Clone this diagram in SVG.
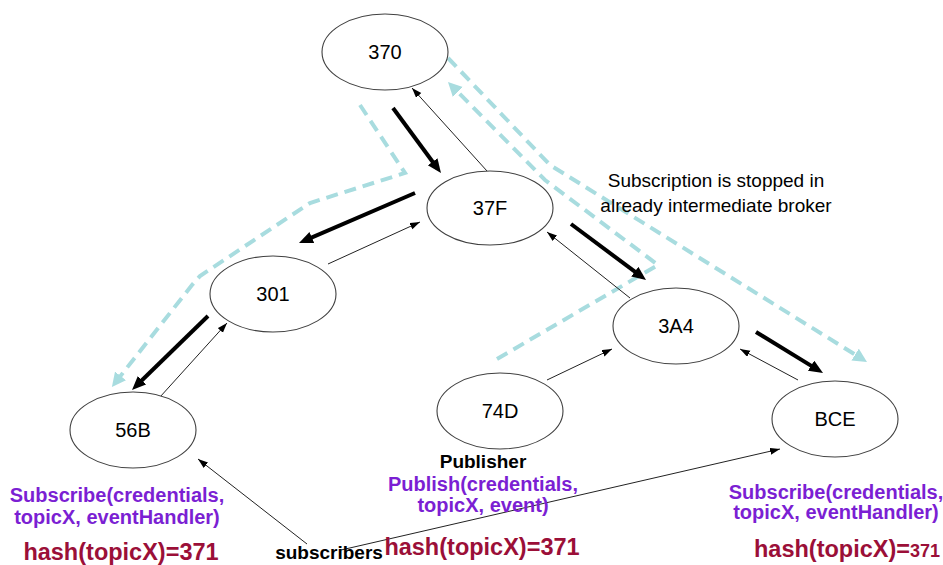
<svg xmlns="http://www.w3.org/2000/svg" width="943" height="565" viewBox="0 0 943 565">
<style>
.node ellipse{fill:#fff;stroke:#404040;stroke-width:1.1}
.node text{font-family:"Liberation Sans",Arial,sans-serif;font-size:20px;fill:#000;text-anchor:middle}
.thin{stroke:#222;stroke-width:1;fill:none;marker-end:url(#ah-thin)}
.thick{stroke:#000;stroke-width:4;fill:none;marker-end:url(#ah-thick)}
.dash{stroke:#A8DCDF;stroke-width:4;fill:none;stroke-dasharray:12 7}
.dasharr{marker-end:url(#ah-teal)}
.lbl{font-family:"Liberation Sans",Arial,sans-serif;text-anchor:middle}
.purple{fill:#7B1FD3;font-weight:bold;font-size:20px}
.red{fill:#9B0F38;font-weight:bold;font-size:23.5px}
.blk{fill:#000;font-weight:bold;font-size:19px}
.note{fill:#000;font-size:19px}
</style>
<defs>
<marker id="ah-thin" markerUnits="userSpaceOnUse" markerWidth="12" markerHeight="9" refX="10" refY="3.5" orient="auto">
<path d="M0,0 L10,3.5 L0,7 z" fill="#000"/>
</marker>
<marker id="ah-thick" markerUnits="userSpaceOnUse" markerWidth="16" markerHeight="14" refX="8" refY="6" orient="auto">
<path d="M0,0 L14,6 L0,12 z" fill="#000"/>
</marker>
<marker id="ah-teal" markerUnits="userSpaceOnUse" markerWidth="16" markerHeight="16" refX="8" refY="7" orient="auto">
<path d="M0,0 L14,7 L0,14 z" fill="#A8DCDF"/>
</marker>
</defs>

<g id="connectors">
<path class="dash dasharr" d="M360,105 L405,173 L310,203 L200,276 L192,285 L115.6,382.2"/>
<path class="dash dasharr" d="M448,58 L550,165 L861.9,358.8"/>
<path class="dash dasharr" d="M497,359 L658,265 L545,180 L452.2,86.3"/>
<line class="thick" x1="393" y1="108" x2="437.4" y2="168.2"/>
<line class="thick" x1="415" y1="193" x2="304.5" y2="240.6"/>
<line class="thick" x1="208" y1="316" x2="136.3" y2="385.8"/>
<line class="thick" x1="571" y1="224" x2="641.2" y2="276.4"/>
<line class="thick" x1="756" y1="332" x2="817.9" y2="369.9"/>
<line class="thin" x1="487" y1="171" x2="412" y2="88"/>
<line class="thin" x1="328" y1="264" x2="420" y2="222"/>
<line class="thin" x1="160" y1="397" x2="227" y2="323"/>
<line class="thin" x1="630" y1="298" x2="547" y2="232"/>
<line class="thin" x1="547" y1="380" x2="612" y2="349"/>
<line class="thin" x1="798" y1="380" x2="740" y2="349"/>
<line class="thin" x1="307" y1="544" x2="198" y2="459"/>
<line class="thin" x1="341" y1="550" x2="780" y2="449"/>
</g>

<g id="n370" class="node"><ellipse cx="385" cy="52" rx="63" ry="38"/><text x="385" y="59">370</text></g>
<g id="n37F" class="node"><ellipse cx="490" cy="208" rx="63" ry="37"/><text x="490" y="215">37F</text></g>
<g id="n301" class="node"><ellipse cx="273" cy="294" rx="63" ry="38"/><text x="273" y="301">301</text></g>
<g id="n56B" class="node"><ellipse cx="133" cy="430" rx="63" ry="38"/><text x="133" y="437">56B</text></g>
<g id="n74D" class="node"><ellipse cx="500" cy="411" rx="63" ry="38"/><text x="500" y="418">74D</text></g>
<g id="n3A4" class="node"><ellipse cx="676" cy="326" rx="63" ry="38"/><text x="676" y="333">3A4</text></g>
<g id="nBCE" class="node"><ellipse cx="835" cy="419" rx="63" ry="38"/><text x="835" y="426">BCE</text></g>

<g id="labels">
<text class="lbl note" x="716" y="187">Subscription is stopped in</text>
<text class="lbl note" x="716" y="212">already intermediate broker</text>

<text class="lbl purple" x="117" y="502">Subscribe(credentials,</text>
<text class="lbl purple" x="117" y="524">topicX, eventHandler)</text>
<text class="lbl red" x="121" y="560">hash(topicX)=371</text>

<text class="lbl blk" x="483" y="468">Publisher</text>
<text class="lbl purple" x="483" y="491">Publish(credentials,</text>
<text class="lbl purple" x="483" y="512">topicX, event)</text>
<text class="lbl red" x="482" y="555">hash(topicX)=371</text>

<text class="lbl purple" x="836" y="499">Subscribe(credentials,</text>
<text class="lbl purple" x="836" y="519">topicX, eventHandler)</text>
<text class="lbl red" x="847" y="557">hash(topicX)=<tspan font-size="18px">371</tspan></text>

<text class="lbl blk" x="329" y="559">subscribers</text>
</g>
</svg>
